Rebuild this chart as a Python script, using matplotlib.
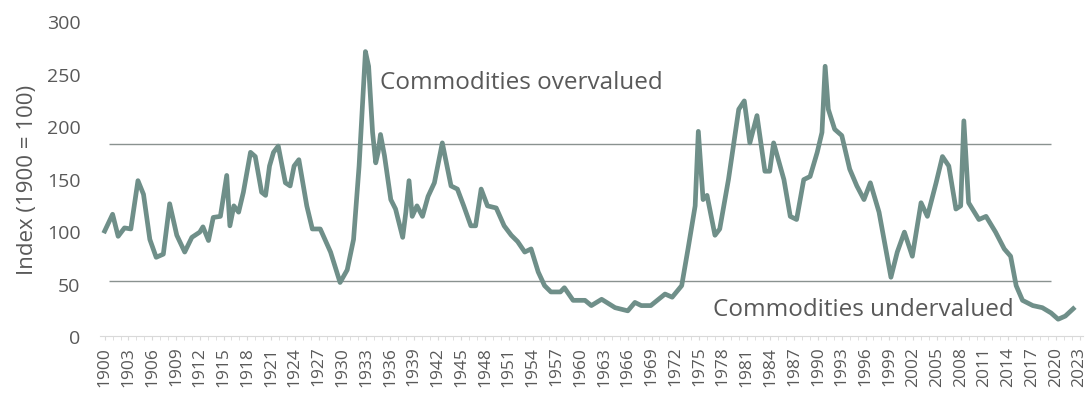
import matplotlib
matplotlib.use("Agg")
import matplotlib.pyplot as plt
from matplotlib.ticker import MultipleLocator

plt.rcParams['font.family'] = ['Open Sans', 'DejaVu Sans']

# points (fractional years, index 1900 = 100)
years = [1900.0, 1901.0, 1901.7, 1902.5, 1903.3, 1904.2, 1904.9, 1905.7, 1906.5, 1907.4,
         1908.2, 1909.1, 1910.1, 1911.0, 1912.0, 1912.4, 1913.1, 1913.7, 1914.6, 1915.4,
         1915.8, 1916.3, 1916.9, 1917.5, 1918.4, 1919.0, 1919.8, 1920.3, 1920.8, 1921.3,
         1921.9, 1922.8, 1923.4, 1923.9, 1924.5, 1925.5, 1926.2, 1927.2, 1928.5, 1929.7,
         1930.6, 1931.4, 1932.1, 1932.9, 1933.3, 1933.8, 1934.2, 1934.5, 1934.8, 1935.3,
         1936.1, 1936.7, 1937.6, 1938.0, 1938.4, 1938.8, 1939.4, 1940.1, 1940.8, 1941.6,
         1942.6, 1943.7, 1944.5, 1945.3, 1946.2, 1946.8, 1947.5, 1948.3, 1949.4, 1950.4,
         1951.3, 1952.1, 1953.0, 1953.8, 1954.7, 1955.5, 1956.3, 1957.5, 1958.0, 1959.1,
         1960.6, 1961.4, 1962.7, 1964.4, 1966.0, 1966.9, 1967.7, 1968.9, 1970.7, 1971.6,
         1972.8, 1973.6, 1974.5, 1974.9, 1975.5, 1976.0, 1977.0, 1977.6, 1978.7, 1980.0,
         1980.7, 1981.4, 1982.3, 1983.3, 1983.9, 1984.4, 1985.7, 1986.5, 1987.3, 1988.2,
         1989.0, 1989.9, 1990.5, 1990.9, 1991.3, 1992.1, 1993.0, 1994.0, 1994.9, 1995.8,
         1996.6, 1997.7, 1999.2, 2000.0, 2000.9, 2001.9, 2003.0, 2003.8, 2004.9, 2005.7,
         2006.5, 2007.4, 2008.0, 2008.4, 2009.0, 2010.3, 2011.2, 2012.4, 2013.5, 2014.3,
         2015.0, 2015.8, 2017.1, 2018.3, 2019.4, 2020.3, 2021.2, 2022.2]
index = [100, 116, 95, 103, 102, 148, 135, 92, 75, 78,
         126, 96, 80, 94, 99, 104, 91, 113, 114, 153,
         105, 124, 118, 137, 175, 171, 137, 134, 162, 175,
         181, 146, 143, 162, 168, 124, 102, 102, 80, 51,
         63, 92, 162, 271, 257, 194, 165, 175, 192, 172,
         130, 121, 94, 118, 148, 114, 124, 114, 133, 146,
         184, 143, 140, 124, 105, 105, 140, 124, 122, 105,
         96, 90, 80, 83, 61, 48, 42, 42, 46, 34,
         34, 29, 35, 27, 24, 32, 29, 29, 40, 37,
         48, 83, 124, 195, 130, 134, 96, 102, 149, 216,
         224, 184, 210, 157, 157, 184, 149, 114, 111, 149,
         152, 175, 194, 257, 216, 197, 191, 159, 143, 130,
         146, 118, 56, 80, 99, 76, 127, 114, 146, 171,
         162, 121, 124, 205, 127, 111, 114, 99, 83, 76,
         48, 34, 29, 27, 22, 16, 19, 26]

overvalued = 183
undervalued = 52
band_start, band_end = 1900.6, 2019.4
tick_years = list(range(1900, 2024, 3))

fig = plt.figure(figsize=(10.86, 4.10), dpi=100)
ax = fig.add_axes([0.092, 0.178, 0.905, 0.768])

ax.hlines([overvalued, undervalued], band_start, band_end, color='#8a9290', linewidth=1.0)
ax.plot(years, index, color='#6f8f89', linewidth=3.4, solid_joinstyle='round')

ax.text(1934.7, 242, "Commodities overvalued", fontsize=17.5, color='#595959', va='center')
ax.text(1976.8, 26, "Commodities undervalued", fontsize=17.5, color='#595959', va='center')

ax.set_xlim(1899.4, 2023.4)
ax.set_ylim(0, 300)
ax.set_xticks(tick_years)
ax.set_xticklabels([str(y) for y in tick_years], rotation=90, fontsize=12.5, color='#595959')
ax.xaxis.set_minor_locator(MultipleLocator(1))
ax.tick_params(axis='x', which='both', length=3, color='#d9d9d9', pad=4)
ax.set_yticks(range(0, 301, 50))
ax.tick_params(axis='y', length=0, labelsize=14, labelcolor='#595959', pad=14)
ax.set_ylabel("Index (1900 = 100)", fontsize=16, color='#595959', labelpad=6)

for side in ['top', 'right', 'left']:
    ax.spines[side].set_visible(False)
ax.spines['bottom'].set_color('#d9d9d9')

fig.savefig("out.png", dpi=100)
